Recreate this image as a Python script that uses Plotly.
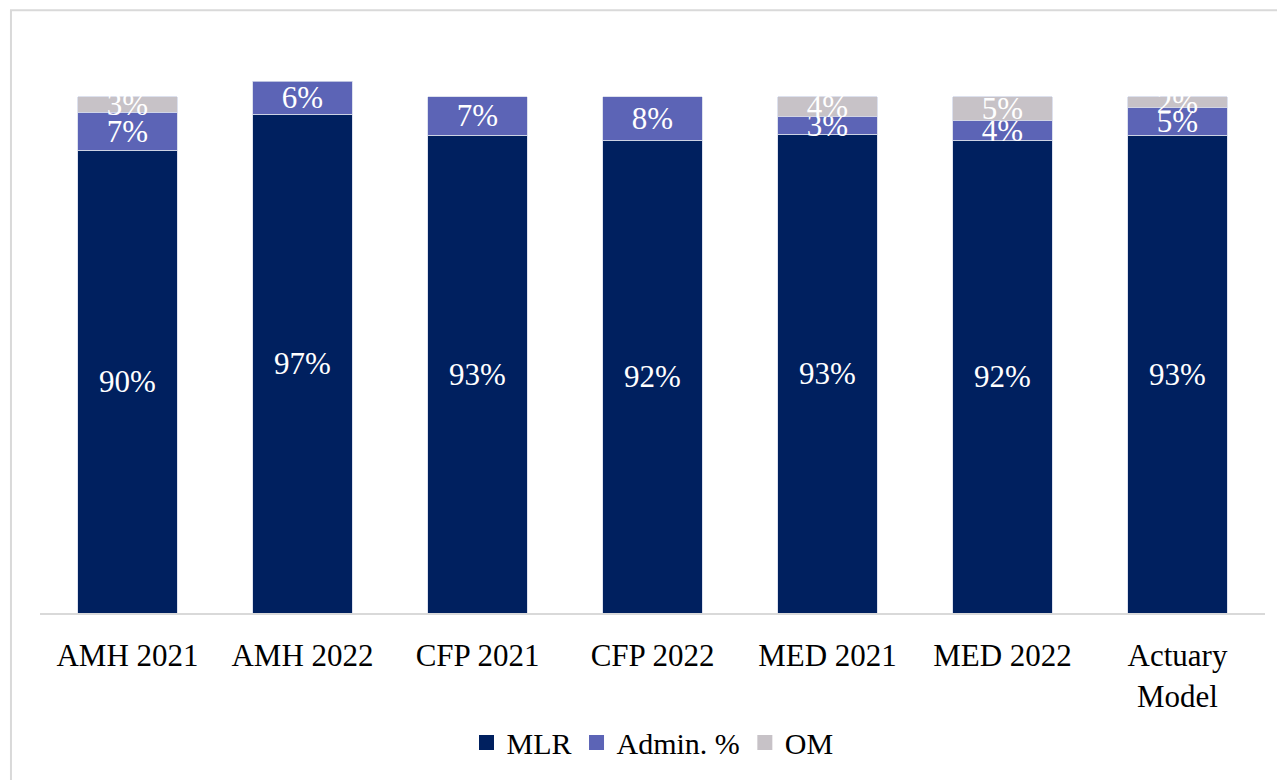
import plotly.graph_objects as go

categorias = ["AMH 2021", "AMH 2022", "CFP 2021", "CFP 2022", "MED 2021", "MED 2022", "Actuary<br>Model"]
mlr = [89.6, 96.6, 92.6, 91.6, 92.7, 91.6, 92.6]
admin = [7.4, 6.4, 7.4, 8.4, 3.4, 3.8, 5.3]
om = [3.0, None, None, None, 3.9, 4.6, 2.1]

fonte = "Liberation Serif"

fig = go.Figure()

series = [
    ("MLR", mlr, "#00205f"),
    ("Admin. %", admin, "#5c64b6"),
    ("OM", om, "#c7c2c7"),
]

for nome, valores, cor in series:
    fig.add_bar(
        name=nome,
        x=categorias,
        y=valores,
        marker=dict(color=cor, line=dict(color="#d5d9ea", width=0.8)),
        texttemplate="%{y:.0f}%",
        textposition="inside",
        insidetextanchor="middle",
        textangle=0,
        constraintext="none",
        textfont=dict(family=fonte, size=31, color="white"),
        showlegend=False,
    )
    # marcador maior para a legenda
    fig.add_scatter(
        name=nome,
        x=[None],
        y=[None],
        mode="markers",
        marker=dict(symbol="square", size=15, color=cor),
    )

fig.add_shape(
    type="rect",
    xref="paper", yref="paper",
    x0=-0.0237, x1=1.2, y0=-0.5, y1=1.080,
    line=dict(color="#d9d9d9", width=2),
    fillcolor="rgba(0,0,0,0)",
    layer="below",
)

fig.update_layout(
    template="none",
    width=1277,
    height=772,
    barmode="stack",
    bargap=0.43,
    paper_bgcolor="white",
    plot_bgcolor="white",
    margin=dict(l=32, r=19.5, t=47, b=157),
    font=dict(family=fonte, size=31, color="black"),
    xaxis=dict(
        showgrid=False,
        showline=True,
        linecolor="#d9d9d9",
        linewidth=2,
        ticks="",
        ticklabelstandoff=14,
        tickfont=dict(family=fonte, size=31, color="black"),
    ),
    yaxis=dict(
        range=[0, 108.1],
        showgrid=False,
        showticklabels=False,
        zeroline=False,
        showline=False,
    ),
    showlegend=True,
    legend=dict(
        orientation="h",
        x=0.5,
        xanchor="center",
        y=-0.232,
        yanchor="middle",
        font=dict(family=fonte, size=30, color="black"),
        itemwidth=30,
        itemsizing="trace",
        traceorder="normal",
    ),
)

fig.write_html("out.html")
